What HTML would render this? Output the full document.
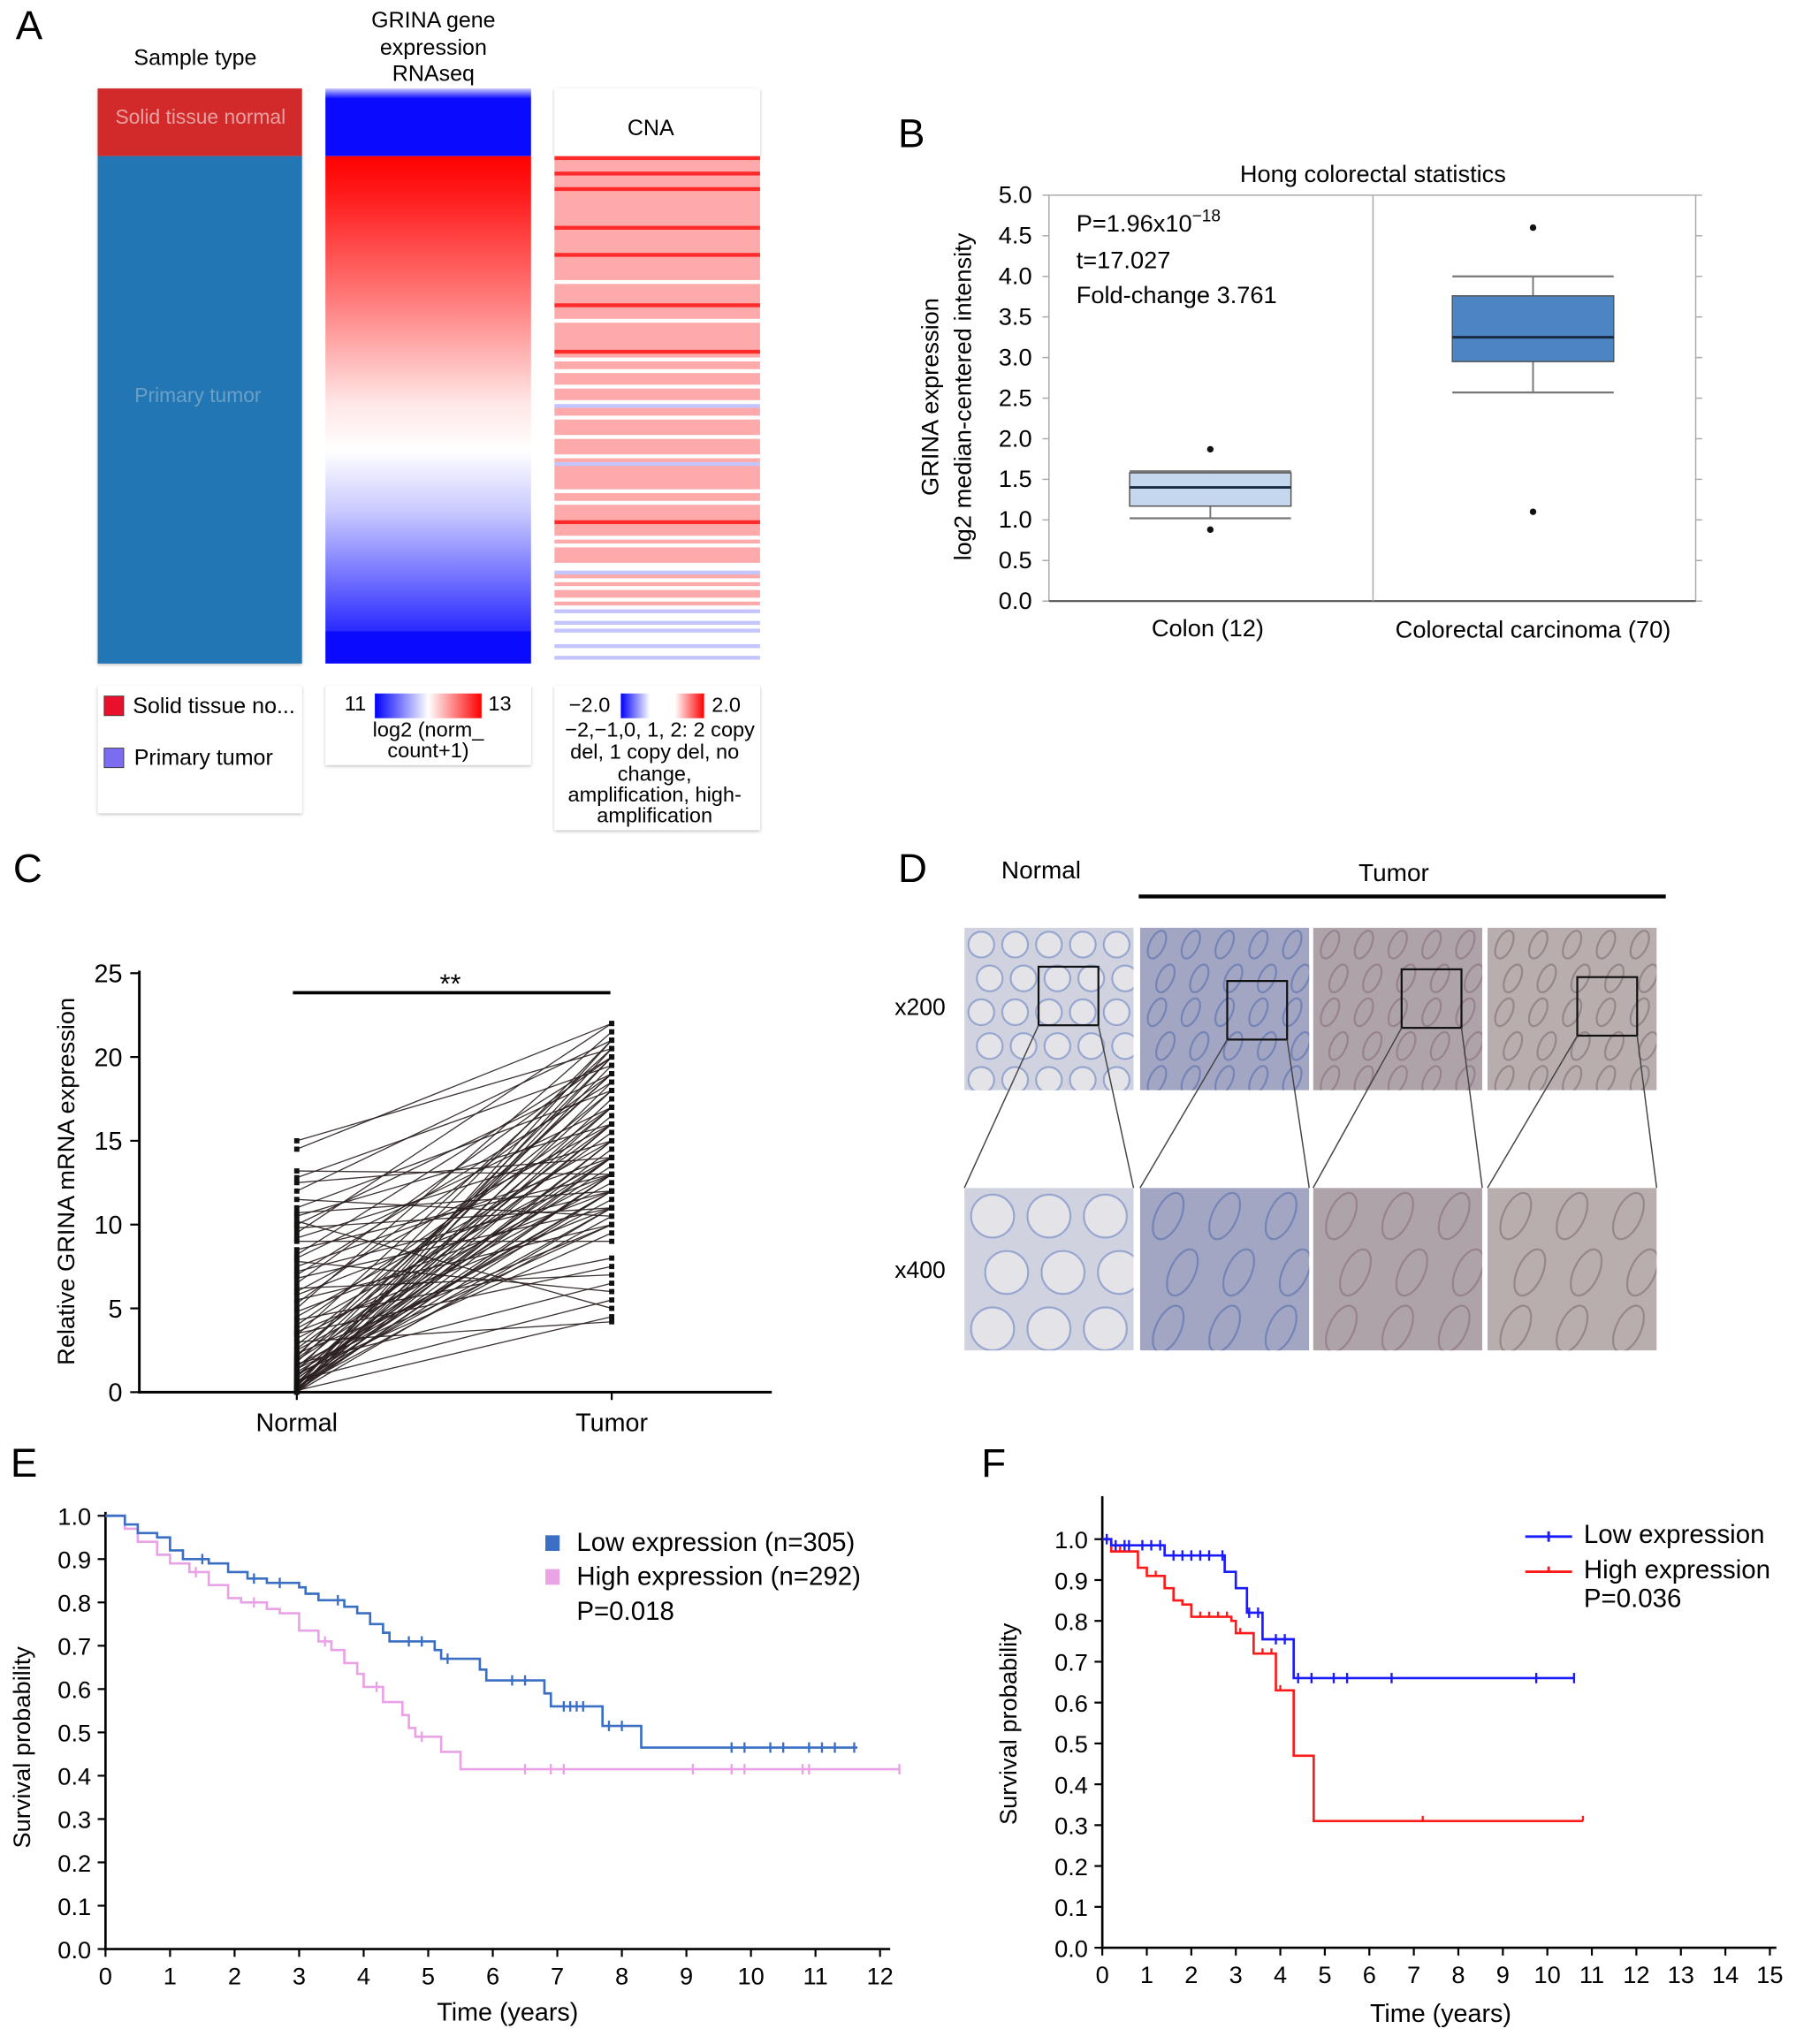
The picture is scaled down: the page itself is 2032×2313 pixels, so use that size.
<!DOCTYPE html>
<html><head><meta charset="utf-8">
<style>
html,body{margin:0;padding:0;background:#fff;}
svg{display:block;font-family:"Liberation Sans",Arial,sans-serif;}
</style></head>
<body>
<svg id="fig" xmlns="http://www.w3.org/2000/svg" width="2032" height="2313" viewBox="0 0 1380 1571">
<defs>
<linearGradient id="gexp" x1="0" y1="0" x2="0" y2="1">
<stop offset="0" stop-color="#ff0000"/><stop offset="0.08" stop-color="#ff1a1a"/><stop offset="0.3" stop-color="#ff7a7a"/><stop offset="0.52" stop-color="#ffe6e6"/><stop offset="0.62" stop-color="#ffffff"/><stop offset="0.75" stop-color="#c8c8ff"/><stop offset="0.9" stop-color="#6a6aff"/><stop offset="1" stop-color="#2a2aff"/>
</linearGradient>
<linearGradient id="gtop" x1="0" y1="0" x2="0" y2="1"><stop offset="0" stop-color="#c8c8ff"/><stop offset="0.15" stop-color="#0a0aff"/><stop offset="1" stop-color="#0a0aff"/></linearGradient>
<linearGradient id="leg1" x1="0" y1="0" x2="1" y2="0"><stop offset="0" stop-color="#0000ff"/><stop offset="0.5" stop-color="#ffffff"/><stop offset="1" stop-color="#ff0000"/></linearGradient>
<linearGradient id="leg2" x1="0" y1="0" x2="1" y2="0"><stop offset="0" stop-color="#0000ff"/><stop offset="0.35" stop-color="#ffffff"/><stop offset="0.65" stop-color="#ffffff"/><stop offset="1" stop-color="#ff0000"/></linearGradient>
<filter id="sh"><feDropShadow dx="0" dy="1" stdDeviation="1.2" flood-color="#000" flood-opacity="0.25"/></filter>
</defs>

<!-- Panel A -->
<g>
<text x="12" y="30" font-size="31">A</text>
<text x="150" y="50" font-size="17" text-anchor="middle">Sample type</text>
<text x="333" y="21" font-size="17" text-anchor="middle">GRINA gene</text>
<text x="333" y="42" font-size="17" text-anchor="middle">expression</text>
<text x="333" y="62" font-size="17" text-anchor="middle">RNAseq</text>
<rect x="75" y="68" width="157" height="52" fill="#d22a2a" filter="url(#sh)"/>
<rect x="75" y="120" width="157" height="390" fill="#2176b4" filter="url(#sh)"/>
<text x="154" y="95" font-size="15.5" fill="#e8a0a0" text-anchor="middle">Solid tissue normal</text>
<text x="152" y="309" font-size="15.5" fill="#6aa0c8" text-anchor="middle">Primary tumor</text>
<rect x="250" y="68" width="158" height="52" fill="url(#gtop)"/>
<rect x="250" y="120" width="158" height="365" fill="url(#gexp)"/>
<rect x="250" y="485" width="158" height="25" fill="#0a0aff"/>
<rect x="426" y="68" width="158" height="52" fill="#fff" filter="url(#sh)"/>
<text x="500" y="104" font-size="17" text-anchor="middle">CNA</text>
<g id="cna"></g>

<rect x="75" y="527" width="157" height="98" fill="#fff" filter="url(#sh)"/>
<rect x="80" y="535" width="15" height="15" fill="#e8102a" stroke="#333" stroke-width="0.6"/>
<text x="102" y="548" font-size="17">Solid tissue no...</text>
<rect x="80" y="575" width="15" height="15" fill="#7b6cf0" stroke="#333" stroke-width="0.6"/>
<text x="103" y="588" font-size="17">Primary tumor</text>

<rect x="250" y="527" width="158" height="61" fill="#fff" filter="url(#sh)"/>
<text x="273" y="546" font-size="16" text-anchor="middle">11</text>
<rect x="288" y="533" width="82" height="19" fill="url(#leg1)"/>
<text x="384" y="546" font-size="16" text-anchor="middle">13</text>
<text x="329" y="566" font-size="16" text-anchor="middle">log2 (norm_</text>
<text x="329" y="582" font-size="16" text-anchor="middle">count+1)</text>

<rect x="426" y="527" width="158" height="111" fill="#fff" filter="url(#sh)"/>
<text x="453" y="547" font-size="16" text-anchor="middle">−2.0</text>
<rect x="477" y="533" width="64" height="19" fill="url(#leg2)"/>
<text x="558" y="547" font-size="16" text-anchor="middle">2.0</text>
<text x="507" y="566" font-size="16" text-anchor="middle">−2,−1,0, 1, 2: 2 copy</text>
<text x="503" y="583" font-size="16" text-anchor="middle">del, 1 copy del, no</text>
<text x="503" y="600" font-size="16" text-anchor="middle">change,</text>
<text x="503" y="616" font-size="16" text-anchor="middle">amplification, high-</text>
<text x="503" y="632" font-size="16" text-anchor="middle">amplification</text>
</g>

<!-- Panel B -->
<g id="pb">
<text x="690" y="113" font-size="31">B</text>
<text x="1055" y="140" font-size="18.5" text-anchor="middle">Hong colorectal statistics</text>
<rect x="806" y="150" width="497" height="312" fill="none" stroke="#aaa" stroke-width="1"/>
<line x1="806" y1="462" x2="1303" y2="462" stroke="#555" stroke-width="1.5"/>
<line x1="1055" y1="150" x2="1055" y2="462" stroke="#aaa" stroke-width="1"/>
<text x="827" y="178" font-size="18.5">P=1.96x10<tspan dy="-8" font-size="13">−18</tspan></text>
<text x="827" y="206" font-size="18.5">t=17.027</text>
<text x="827" y="233" font-size="18.5">Fold-change 3.761</text>
<text transform="translate(721,305) rotate(-90)" font-size="18.5" text-anchor="middle">GRINA expression</text>
<text transform="translate(746,305) rotate(-90)" font-size="18.5" text-anchor="middle">log2 median-centered intensity</text>
<text x="928" y="489" font-size="18.5" text-anchor="middle">Colon (12)</text>
<text x="1178" y="490" font-size="18.5" text-anchor="middle">Colorectal carcinoma (70)</text>
</g>

<!-- Panel C -->
<g id="pc">
<text x="10" y="678" font-size="31">C</text>
<line x1="107" y1="746" x2="107" y2="1071" stroke="#000" stroke-width="2"/>
<line x1="106" y1="1070" x2="593" y2="1070" stroke="#000" stroke-width="2"/>
<line x1="225" y1="763" x2="469" y2="763" stroke="#000" stroke-width="2.5"/>
<text x="346" y="763" font-size="21" text-anchor="middle">**</text>
<text transform="translate(57,908) rotate(-90)" font-size="18.5" text-anchor="middle">Relative GRINA mRNA expression</text>
<text x="228" y="1100" font-size="19.5" text-anchor="middle">Normal</text>
<text x="470" y="1100" font-size="19.5" text-anchor="middle">Tumor</text>
</g>

<!-- Panel D -->
<g id="pd">
<text x="690" y="678" font-size="31">D</text>
<text x="800" y="675" font-size="19" text-anchor="middle">Normal</text>
<text x="1071" y="677" font-size="19" text-anchor="middle">Tumor</text>
<line x1="875" y1="689" x2="1280" y2="689" stroke="#000" stroke-width="3"/>
<text x="707" y="780" font-size="18" text-anchor="middle">x200</text>
<text x="707" y="982" font-size="18" text-anchor="middle">x400</text>
</g>

<!-- Panel E -->
<g id="pe">
<text x="8" y="1135" font-size="31">E</text>
<text transform="translate(23,1343) rotate(-90)" font-size="18.5" text-anchor="middle">Survival probability</text>
<text x="390" y="1553" font-size="19.5" text-anchor="middle">Time (years)</text>
<rect x="419" y="1180" width="11" height="12" fill="#3a6fc4"/>
<text x="443" y="1192" font-size="20">Low expression (n=305)</text>
<rect x="419" y="1206" width="11" height="12" fill="#eaa4e6"/>
<text x="443" y="1218" font-size="20">High expression (n=292)</text>
<text x="443" y="1245" font-size="20">P=0.018</text>
</g>

<!-- Panel F -->
<g id="pf">
<text x="754" y="1135" font-size="31">F</text>
<text transform="translate(781,1325) rotate(-90)" font-size="18.5" text-anchor="middle">Survival probability</text>
<text x="1107" y="1554" font-size="19.5" text-anchor="middle">Time (years)</text>
<line x1="1172" y1="1181" x2="1208" y2="1181" stroke="#1a1aff" stroke-width="2"/>
<line x1="1190" y1="1177" x2="1190" y2="1185" stroke="#1a1aff" stroke-width="2"/>
<text x="1217" y="1186" font-size="20">Low expression</text>
<line x1="1172" y1="1208" x2="1208" y2="1208" stroke="#ff1a1a" stroke-width="2"/>
<line x1="1190" y1="1204" x2="1190" y2="1208" stroke="#ff1a1a" stroke-width="2"/>
<text x="1217" y="1213" font-size="20">High expression</text>
<text x="1217" y="1235" font-size="20">P=0.036</text>
</g>
</svg>

<script>
// ---------- data ----------
var cnaRows = "2111211121111111112111111211111101111121110111111121011011101110a11011110111101a111111011011112111010111100a101011010a00a0a000a00a0";
var boxCats = ["Colon (12)", "Colorectal carcinoma (70)"];
var boxQ1 = [1.17, 2.95];
var boxMed = [1.40, 3.25];
var boxQ3 = [1.58, 3.76];
var boxWLo = [1.02, 2.57];
var boxWHi = [1.60, 4.00];
var boxOutHi = [1.87, 4.60];
var boxOutLo = [0.88, 1.10];
var boxTicks = ["0.0","0.5","1.0","1.5","2.0","2.5","3.0","3.5","4.0","4.5","5.0"];

var pairNormal = [15,14.5,13.2,12.8,12.5,12,11.5,11,10.7,10.5,10.2,10,9.8,9.5,9.2,9,8.5,8.2,8,7.8,7.5,7.2,7,6.8,6.5,6.2,6,5.8,5.5,5.3,5,4.8,4.5,4.3,4,3.8,3.6,3.4,3.2,3,2.8,2.6,2.5,2.3,2.1,2,1.9,1.8,1.7,1.6,1.5,1.4,1.3,1.2,1.1,1,0.9,0.8,0.7,0.6,0.5,0.5,0.4,0.4,0.3,0.3,0.2,0.2,0.15,0.1,0.1,0.05,0.05,0,0,1.0,2.2,3.5,0.8,0.6,1.4,0.3,0.2,0.1];
var pairTumor = [20.5,22,13,19.5,14,21,10.5,18,12,16,5,19,11,22,15,9,13,20,17,6,14,12,18.5,11,20,7,16,13,10,19,21.5,12,15,8,17,14,11,20.5,13,4.2,18,16,12.5,10,21,15.5,14,19,6.5,11.5,17,13.5,20,12,9.5,16.5,18,14.5,5.5,11,19.5,13,15,21,12,10.5,17.5,14,16,20,4.5,13,18.5,11,15,12,19,7.5,14,16,10,20.5,17,13];
var cTicks = [0,5,10,15,20,25];

var eLowT = [0,0.3,0.5,0.8,1.0,1.2,1.6,1.9,2.2,2.5,3.0,3.1,3.3,3.7,3.9,4.1,4.3,4.4,5.1,5.2,5.8,5.9,6.8,6.9,7.7,8.3,11.65];
var eLowS = [1.0,0.98,0.96,0.95,0.92,0.90,0.89,0.87,0.855,0.845,0.835,0.82,0.805,0.79,0.775,0.75,0.73,0.71,0.69,0.67,0.645,0.62,0.59,0.56,0.515,0.465,0.465];
var eHighT = [0,0.3,0.5,0.8,1.0,1.3,1.6,1.9,2.1,2.5,2.7,3.0,3.3,3.5,3.7,3.9,4.0,4.3,4.6,4.7,4.8,5.2,5.5,12.3];
var eHighS = [1.0,0.97,0.94,0.91,0.89,0.87,0.84,0.81,0.80,0.785,0.775,0.735,0.71,0.69,0.66,0.635,0.605,0.57,0.54,0.51,0.49,0.455,0.415,0.415];
var eLowCens = [1.5,2.3,2.7,3.6,4.7,4.9,5.3,6.3,6.5,7.1,7.2,7.3,7.4,7.8,8.0,9.7,9.9,10.3,10.5,10.9,11.1,11.3,11.6];
var eHighCens = [1.4,2.3,3.4,4.2,4.9,6.5,6.9,7.1,9.1,9.7,9.9,10.8,10.9,12.3];
var eYTicks = ["0.0","0.1","0.2","0.3","0.4","0.5","0.6","0.7","0.8","0.9","1.0"];
var eXTicks = [0,1,2,3,4,5,6,7,8,9,10,11,12];

var fLowT = [0,0.2,1.4,2.75,3.0,3.25,3.6,4.3,10.6];
var fLowS = [1.0,0.985,0.96,0.92,0.88,0.82,0.755,0.66,0.66];
var fHighT = [0,0.2,0.8,1.0,1.4,1.6,1.8,2.0,2.9,3.0,3.4,3.9,4.3,4.75,10.8];
var fHighS = [1.0,0.97,0.93,0.91,0.88,0.85,0.84,0.81,0.80,0.77,0.72,0.63,0.47,0.31,0.31];
var fLowCens = [0.1,0.3,0.5,0.6,0.9,1.1,1.3,1.6,1.8,2.0,2.2,2.4,2.7,3.3,3.5,3.9,4.1,4.4,4.7,5.2,5.5,6.5,9.75,10.6];
var fHighCens = [0.4,1.2,1.4,2.2,2.4,2.6,2.8,3.1,3.6,3.8,4.0,7.2,10.8];
var fYTicks = ["0.0","0.1","0.2","0.3","0.4","0.5","0.6","0.7","0.8","0.9","1.0"];
var fXTicks = [0,1,2,3,4,5,6,7,8,9,10,11,12,13,14,15];

// ---------- helpers ----------
var NS = "http://www.w3.org/2000/svg";
function mk(tag, attrs, parent) {
  var el = document.createElementNS(NS, tag);
  for (var k in attrs) el.setAttribute(k, attrs[k]);
  parent.appendChild(el);
  return el;
}
function stepPath(ts, ss, xf, yf) {
  var d = "M" + xf(ts[0]) + "," + yf(ss[0]);
  for (var i = 1; i < ts.length; i++) {
    d += "H" + xf(ts[i]) + "V" + yf(ss[i]);
  }
  return d;
}
function stepVal(ts, ss, t) {
  var v = ss[0];
  for (var i = 0; i < ts.length; i++) if (ts[i] <= t) v = ss[i];
  return v;
}

// ---------- CNA stripes ----------
(function () {
  var g = document.getElementById("cna");
  var top = 120, h = 390, n = cnaRows.length, rh = h / n;
  var col = {"2": "#ff2a2a", "1": "#ffaaaa", "0": "#ffffff", "a": "#c4c4ff"};
  var bg = mk("rect", {x: 426, y: top, width: 158, height: h, fill: "#fff"}, g);
  
  
  for (var i = 0; i < n; i++) {
    var r = mk("rect", {x: 426, y: (top + i * rh).toFixed(2), width: 158, height: (rh + 0.3).toFixed(2), fill: col[cnaRows[i]]}, g);
    
    
  }
})();

// ---------- Panel B ----------
(function () {
  var g = document.getElementById("pb");
  function y(v) { return 462 - v * 62.4; }
  var cx = [930, 1178], hw = 62;
  var fills = ["#c5d7ee", "#4d85c2"];
  for (var i = 0; i < boxTicks.length; i++) {
    var v = parseFloat(boxTicks[i]);
    var t = mk("text", {x: 793, y: y(v) + 6, "font-size": 18.5, "text-anchor": "end"}, g);
    t.textContent = boxTicks[i];
    
    
    var tk = mk("line", {x1: 801, x2: 806, y1: y(v), y2: y(v), stroke: "#aaa"}, g);
    
    
    var tk2 = mk("line", {x1: 1303, x2: 1308, y1: y(v), y2: y(v), stroke: "#aaa"}, g);
    
    
  }
  for (var j = 0; j < boxCats.length; j++) {
    var w = mk("line", {x1: cx[j], x2: cx[j], y1: y(boxWLo[j]), y2: y(boxWHi[j]), stroke: "#777", "stroke-width": 1.3}, g);
    
    
    var c1 = mk("line", {x1: cx[j] - hw, x2: cx[j] + hw, y1: y(boxWLo[j]), y2: y(boxWLo[j]), stroke: "#777", "stroke-width": 1.5}, g);
    
    
    var c2 = mk("line", {x1: cx[j] - hw, x2: cx[j] + hw, y1: y(boxWHi[j]), y2: y(boxWHi[j]), stroke: "#777", "stroke-width": 1.5}, g);
    
    
    var b = mk("rect", {x: cx[j] - hw, y: y(boxQ3[j]), width: hw * 2, height: y(boxQ1[j]) - y(boxQ3[j]), fill: fills[j], stroke: "#555", "stroke-width": 1}, g);
    
    
    var m = mk("line", {x1: cx[j] - hw, x2: cx[j] + hw, y1: y(boxMed[j]), y2: y(boxMed[j]), stroke: "#1a2a40", "stroke-width": 2}, g);
    
    
    var o1 = mk("circle", {cx: cx[j], cy: y(boxOutHi[j]), r: 2.5, fill: "#111"}, g);
    
    
    var o2 = mk("circle", {cx: cx[j], cy: y(boxOutLo[j]), r: 2.5, fill: "#111"}, g);
    
    
  }
})();

// ---------- Panel C ----------
(function () {
  var g = document.getElementById("pc");
  function y(v) { return 1070 - v * 12.88; }
  var xN = 228, xT = 470;
  for (var i = 0; i < cTicks.length; i++) {
    var t = mk("text", {x: 94, y: y(cTicks[i]) + 7, "font-size": 19.5, "text-anchor": "end"}, g);
    t.textContent = cTicks[i];
    
    
    var tk = mk("line", {x1: 100, x2: 107, y1: y(cTicks[i]), y2: y(cTicks[i]), stroke: "#000", "stroke-width": 1.5}, g);
    
    
  }
  [xN, xT].forEach(function (x) {
    var tk = mk("line", {x1: x, x2: x, y1: 1070, y2: 1076, stroke: "#000", "stroke-width": 1.5}, g);
    
    
  });
  var n = Math.min(pairNormal.length, pairTumor.length);
  for (var k = 0; k < n; k++) {
    var l = mk("line", {x1: xN, y1: y(pairNormal[k]), x2: xT, y2: y(pairTumor[k]), stroke: "#2a1f1f", "stroke-width": 0.9, "stroke-opacity": 0.9}, g);
    
    
    var d1 = mk("rect", {x: xN - 2, y: y(pairNormal[k]) - 2, width: 4, height: 4, fill: "#111"}, g);
    
    
    var d2 = mk("rect", {x: xT - 2, y: y(pairTumor[k]) - 2, width: 4, height: 4, fill: "#111"}, g);
    
    
  }
})();

// ---------- Panel D (histology images) ----------
(function () {
  var g = document.getElementById("pd");
  var defs = document.querySelector("defs");
  var cols = [741, 876, 1009, 1143], w = 130, h = 125;
  var rows = [713, 913];
  var base = ["#d0d3df", "#a2a6c2", "#afa3aa", "#b8aeae"];
  var ink = ["#4a68b8", "#3d5aa8", "#7a5a6a", "#6a5860"];
  var zoomBox = [[798, 743], [943, 754], [1077, 745], [1212, 751]];
  for (var c = 0; c < 4; c++) {
    for (var r = 0; r < 2; r++) {
      var cid = "clip" + c + "_" + r;
      var cp = mk("clipPath", {id: cid}, defs);
      mk("rect", {x: cols[c], y: rows[r], width: w, height: h}, cp);
      var gg = mk("g", {"clip-path": "url(#" + cid + ")"}, g);
      
      
      var im = mk("rect", {x: cols[c], y: rows[r], width: w, height: h, fill: base[c]}, gg);
      
      
      var nn = r === 0 ? 5 : 3;
      var step = w / nn;
      var sz = c === 0 ? step * 0.38 : step * 0.22;
      for (var a = 0; a < nn; a++) {
        for (var b = 0; b < nn; b++) {
          var px = cols[c] + step * (a + 0.5) + (b % 2) * step * 0.25;
          var py = rows[r] + step * (b + 0.5);
          var e = mk("ellipse", {cx: px, cy: py, rx: sz, ry: c === 0 ? sz : sz * 2, fill: c === 0 ? "#e4e4e8" : "none", stroke: ink[c], "stroke-width": 1.5, "stroke-opacity": 0.45, transform: c === 0 ? "" : "rotate(25 " + px + " " + py + ")"}, gg);
          
          
        }
      }
    }
    var zb = mk("rect", {x: zoomBox[c][0], y: zoomBox[c][1], width: 46, height: 45, fill: "none", stroke: "#111", "stroke-width": 1.5}, g);
    
    
    var l1 = mk("line", {x1: zoomBox[c][0], y1: zoomBox[c][1] + 45, x2: cols[c], y2: rows[1], stroke: "#444", "stroke-width": 1}, g);
    
    
    var l2 = mk("line", {x1: zoomBox[c][0] + 46, y1: zoomBox[c][1] + 45, x2: cols[c] + w, y2: rows[1], stroke: "#444", "stroke-width": 1}, g);
    
    
  }
})();

// ---------- KM plot builder ----------
function km(gid, x0, xPer, y0, yPer, yTop, xEnd, xTicks, yTicks, series, prefix) {
  var g = document.getElementById(gid);
  function X(t) { return x0 + t * xPer; }
  function Y(s) { return y0 - s * yPer; }
  var ya = mk("line", {x1: x0, x2: x0, y1: yTop, y2: y0 + 1, stroke: "#000", "stroke-width": 1.8}, g);
  
  
  var xa = mk("line", {x1: x0 - 1, x2: xEnd, y1: y0, y2: y0, stroke: "#000", "stroke-width": 1.8}, g);
  
  
  for (var i = 0; i < yTicks.length; i++) {
    var v = parseFloat(yTicks[i]);
    var t = mk("text", {x: x0 - 11, y: Y(v) + 7, "font-size": 18.5, "text-anchor": "end"}, g);
    t.textContent = yTicks[i];
    
    
    var tk = mk("line", {x1: x0 - 6, x2: x0, y1: Y(v), y2: Y(v), stroke: "#000", "stroke-width": 1.5}, g);
    
    
  }
  for (var j = 0; j < xTicks.length; j++) {
    var t2 = mk("text", {x: X(xTicks[j]), y: y0 + 27, "font-size": 18.5, "text-anchor": "middle"}, g);
    t2.textContent = xTicks[j];
    
    
    var tk2 = mk("line", {x1: X(xTicks[j]), x2: X(xTicks[j]), y1: y0, y2: y0 + 6, stroke: "#000", "stroke-width": 1.5}, g);
    
    
  }
  series.forEach(function (s) {
    var p = mk("path", {d: stepPath(s.t, s.s, X, Y), fill: "none", stroke: s.color, "stroke-width": 1.8}, g);
    
    
    s.cens.forEach(function (ct) {
      var sv = stepVal(s.t, s.s, ct);
      var c = mk("line", {x1: X(ct), x2: X(ct), y1: Y(sv) - 4, y2: Y(sv) + (s.up ? 0 : 4), stroke: s.color, "stroke-width": 1.6}, g);
      
      
    });
  });
}
km("pe", 81, 49.6, 1498, 333, 1162, 684, eXTicks, eYTicks, [
  {t: eHighT, s: eHighS, cens: eHighCens, color: "#e9a2e6", name: "e-high-curve"},
  {t: eLowT, s: eLowS, cens: eLowCens, color: "#3a6fc4", name: "e-low-curve"}
], "e");
km("pf", 847, 34.2, 1497, 314, 1150, 1365, fXTicks, fYTicks, [
  {t: fHighT, s: fHighS, cens: fHighCens, color: "#ff1a1a", name: "f-high-curve", up: true},
  {t: fLowT, s: fLowS, cens: fLowCens, color: "#1a1aff", name: "f-low-curve"}
], "f");
</script>
</body></html>
